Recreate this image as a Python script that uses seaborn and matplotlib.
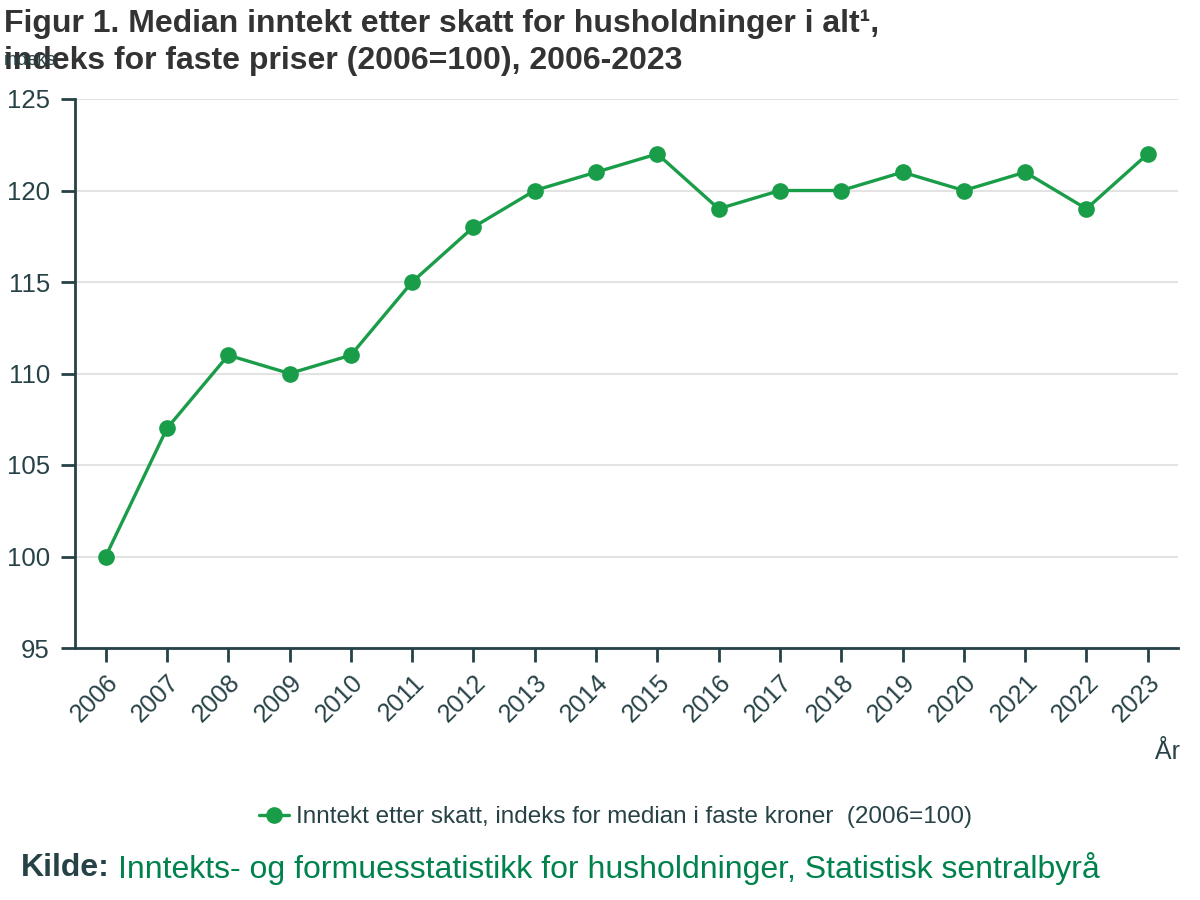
import matplotlib
matplotlib.use('Agg')
import matplotlib.pyplot as plt
import seaborn as sns
import pandas as pd

aar = [2006, 2007, 2008, 2009, 2010, 2011, 2012, 2013, 2014, 2015,
       2016, 2017, 2018, 2019, 2020, 2021, 2022, 2023]
indeks = [100, 107, 111, 110, 111, 115, 118, 120, 121, 122,
          119, 120, 120, 121, 120, 121, 119, 122]
serie_navn = 'Inntekt etter skatt, indeks for median i faste kroner  (2006=100)'

GRONN = '#1a9d49'
MORK = '#274247'

sns.set_style('white')
plt.rcParams['font.family'] = ['Liberation Sans', 'DejaVu Sans']

df = pd.DataFrame({'År': aar, 'Indeks': indeks})

fig = plt.figure(figsize=(12, 9), dpi=100)
ax = fig.add_axes([0.0625, 0.28, 0.9195, 0.61])

sns.lineplot(data=df, x='År', y='Indeks', ax=ax, color=GRONN, linewidth=2.4,
             marker='o', markersize=12, markeredgewidth=0, label=serie_navn)

ax.set_xlim(2005.5, 2023.5)
ax.set_ylim(95, 125)
ax.set_yticks(range(95, 126, 5))
ax.set_xticks(aar)
ax.set_xticklabels([str(a) for a in aar], rotation=45, ha='right',
                   rotation_mode='anchor', fontsize=18, color=MORK)
ax.tick_params(axis='y', labelsize=18.5, labelcolor=MORK, length=10, width=2,
               color=MORK, left=True, pad=8)
ax.tick_params(axis='x', length=10, width=2, color=MORK, bottom=True, pad=6)
ax.grid(axis='y', color='#e3e3e3', linewidth=1.5)
ax.set_axisbelow(True)
for s in ['top', 'right']:
    ax.spines[s].set_visible(False)
for s in ['left', 'bottom']:
    ax.spines[s].set_color(MORK)
    ax.spines[s].set_linewidth(2)
ax.set_xlabel('')
ax.set_ylabel('')

ax.legend(loc='upper center', bbox_to_anchor=(0.49, -0.248), frameon=False,
          fontsize=17.5, labelcolor=MORK, handlelength=1.2, handletextpad=0.3)

fig.text(0.003, 0.99, 'Figur 1. Median inntekt etter skatt for husholdninger i alt\u00b9,\n'
         'indeks for faste priser (2006=100), 2006-2023',
         fontsize=23, fontweight='bold', color='#333333', va='top', ha='left',
         linespacing=1.3)
fig.text(0.003, 0.933, 'indeks', fontsize=13, color=MORK, va='center', ha='left')
fig.text(0.983, 0.164, 'År', fontsize=18, color=MORK, ha='right', va='center')
fig.text(0.017, 0.035, 'Kilde:', fontsize=23, fontweight='bold', color=MORK,
         ha='left', va='center')
fig.text(0.098, 0.035, 'Inntekts- og formuesstatistikk for husholdninger, Statistisk sentralbyrå',
         fontsize=23, color='#00824d', ha='left', va='center')

fig.savefig('out.png', dpi=100)
